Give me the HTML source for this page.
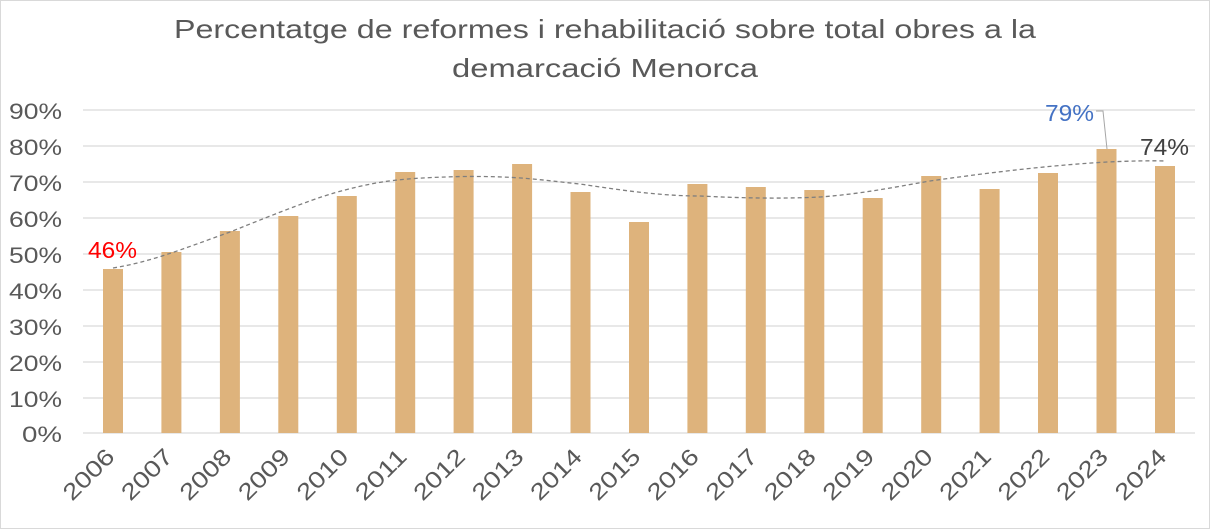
<!DOCTYPE html>
<html><head><meta charset="utf-8"><style>
html,body{margin:0;padding:0;background:#fff;}
svg{display:block;font-family:"Liberation Sans",sans-serif;}
</style></head><body>
<svg width="1210" height="530" viewBox="0 0 1210 530" xmlns="http://www.w3.org/2000/svg">
<rect x="0.5" y="0.5" width="1209" height="528" fill="#fff" stroke="#d9d9d9"/>
<text x="605" y="38" text-anchor="middle" font-size="26" fill="#595959" textLength="862" lengthAdjust="spacingAndGlyphs">Percentatge de reformes i rehabilitació sobre total obres a la</text>
<text x="605" y="77" text-anchor="middle" font-size="26" fill="#595959" textLength="306" lengthAdjust="spacingAndGlyphs">demarcació Menorca</text>
<g stroke="#d9d9d9" stroke-width="1.3">
<line x1="83" x2="1195" y1="110" y2="110"/><line x1="83" x2="1195" y1="146" y2="146"/>
<line x1="83" x2="1195" y1="182" y2="182"/><line x1="83" x2="1195" y1="218" y2="218"/>
<line x1="83" x2="1195" y1="254" y2="254"/><line x1="83" x2="1195" y1="290" y2="290"/>
<line x1="83" x2="1195" y1="326" y2="326"/><line x1="83" x2="1195" y1="362" y2="362"/>
<line x1="83" x2="1195" y1="398" y2="398"/><line x1="83" x2="1195" y1="433" y2="433"/>
</g>
<g font-size="22" fill="#595959" text-anchor="end">
<text x="62" y="119" textLength="53" lengthAdjust="spacingAndGlyphs">90%</text><text x="62" y="155" textLength="53" lengthAdjust="spacingAndGlyphs">80%</text><text x="62" y="191" textLength="53" lengthAdjust="spacingAndGlyphs">70%</text>
<text x="62" y="227" textLength="53" lengthAdjust="spacingAndGlyphs">60%</text><text x="62" y="263" textLength="53" lengthAdjust="spacingAndGlyphs">50%</text><text x="62" y="299" textLength="53" lengthAdjust="spacingAndGlyphs">40%</text>
<text x="62" y="335" textLength="53" lengthAdjust="spacingAndGlyphs">30%</text><text x="62" y="371" textLength="53" lengthAdjust="spacingAndGlyphs">20%</text><text x="62" y="407" textLength="53" lengthAdjust="spacingAndGlyphs">10%</text>
<text x="62" y="442" textLength="40" lengthAdjust="spacingAndGlyphs">0%</text>
</g>
<g fill="#deb37c">
<rect x="103" y="269" width="20" height="164"/>
<rect x="161.4" y="252" width="20" height="181"/>
<rect x="219.9" y="231" width="20" height="202"/>
<rect x="278.3" y="216" width="20" height="217"/>
<rect x="336.8" y="196" width="20" height="237"/>
<rect x="395.2" y="172" width="20" height="261"/>
<rect x="453.6" y="170" width="20" height="263"/>
<rect x="512.1" y="164" width="20" height="269"/>
<rect x="570.5" y="192" width="20" height="241"/>
<rect x="629" y="222" width="20" height="211"/>
<rect x="687.4" y="184" width="20" height="249"/>
<rect x="745.8" y="187" width="20" height="246"/>
<rect x="804.3" y="190" width="20" height="243"/>
<rect x="862.7" y="198" width="20" height="235"/>
<rect x="921.2" y="176" width="20" height="257"/>
<rect x="979.6" y="189" width="20" height="244"/>
<rect x="1038" y="173" width="20" height="260"/>
<rect x="1096.5" y="149" width="20" height="284"/>
<rect x="1155" y="166" width="20" height="267"/>
</g>
<path d="M113,268 C150,262 180,250 230,232 C280,212 320,196 345,190 C380,181 400,178 463,176.5 C520,176 540,180 580,184 C620,190 660,196 700,196 C740,198 780,199 820,197 C860,194 890,188 930,181 C980,174 1040,166 1107,162 C1130,161 1150,160.5 1165,161" fill="none" stroke="#7f7f7f" stroke-width="1.3" stroke-dasharray="4,3"/>
<polyline points="1096,111 1103,111 1107,149" fill="none" stroke="#a6a6a6" stroke-width="1"/>
<text x="88" y="258" font-size="23" fill="#ff0000" textLength="49" lengthAdjust="spacingAndGlyphs">46%</text>
<text x="1045" y="121" font-size="23" fill="#4472c4" textLength="49" lengthAdjust="spacingAndGlyphs">79%</text>
<text x="1140" y="155" font-size="23" fill="#404040" textLength="49" lengthAdjust="spacingAndGlyphs">74%</text>
<g font-size="23" fill="#595959" text-anchor="end">
<text transform="translate(116,458) rotate(-45)" textLength="62" lengthAdjust="spacingAndGlyphs">2006</text>
<text transform="translate(174.4,458) rotate(-45)" textLength="62" lengthAdjust="spacingAndGlyphs">2007</text>
<text transform="translate(232.9,458) rotate(-45)" textLength="62" lengthAdjust="spacingAndGlyphs">2008</text>
<text transform="translate(291.3,458) rotate(-45)" textLength="62" lengthAdjust="spacingAndGlyphs">2009</text>
<text transform="translate(349.8,458) rotate(-45)" textLength="62" lengthAdjust="spacingAndGlyphs">2010</text>
<text transform="translate(408.2,458) rotate(-45)" textLength="62" lengthAdjust="spacingAndGlyphs">2011</text>
<text transform="translate(466.6,458) rotate(-45)" textLength="62" lengthAdjust="spacingAndGlyphs">2012</text>
<text transform="translate(525.1,458) rotate(-45)" textLength="62" lengthAdjust="spacingAndGlyphs">2013</text>
<text transform="translate(583.5,458) rotate(-45)" textLength="62" lengthAdjust="spacingAndGlyphs">2014</text>
<text transform="translate(642,458) rotate(-45)" textLength="62" lengthAdjust="spacingAndGlyphs">2015</text>
<text transform="translate(700.4,458) rotate(-45)" textLength="62" lengthAdjust="spacingAndGlyphs">2016</text>
<text transform="translate(758.8,458) rotate(-45)" textLength="62" lengthAdjust="spacingAndGlyphs">2017</text>
<text transform="translate(817.3,458) rotate(-45)" textLength="62" lengthAdjust="spacingAndGlyphs">2018</text>
<text transform="translate(875.7,458) rotate(-45)" textLength="62" lengthAdjust="spacingAndGlyphs">2019</text>
<text transform="translate(934.2,458) rotate(-45)" textLength="62" lengthAdjust="spacingAndGlyphs">2020</text>
<text transform="translate(992.6,458) rotate(-45)" textLength="62" lengthAdjust="spacingAndGlyphs">2021</text>
<text transform="translate(1051,458) rotate(-45)" textLength="62" lengthAdjust="spacingAndGlyphs">2022</text>
<text transform="translate(1109.5,458) rotate(-45)" textLength="62" lengthAdjust="spacingAndGlyphs">2023</text>
<text transform="translate(1168,458) rotate(-45)" textLength="62" lengthAdjust="spacingAndGlyphs">2024</text>
</g>
</svg>
</body></html>
